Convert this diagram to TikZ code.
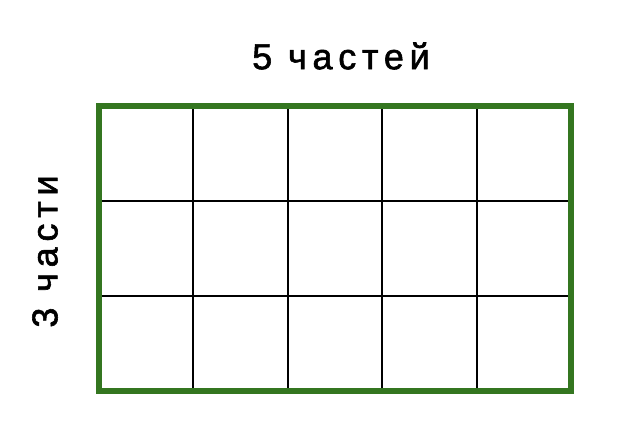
\documentclass[tikz,border=0pt]{standalone}
\usepackage{fontspec}
\setmainfont{Liberation Sans}[LetterSpace=16, FakeBold=1.6]
\definecolor{framegreen}{RGB}{52,118,32}
\begin{document}
\begin{tikzpicture}[x=1pt, y=-1pt]
\useasboundingbox (0,0) rectangle (620,446);
\def\cell{[line width = 2pt] }
\def\caption{node [font=\fontsize{36}{40}\selectfont, inner sep = 0] }

\draw \cell (193.4, 106) -- (193.4, 391);
\draw \cell (287.8, 106) -- (287.8, 391);
\draw \cell (382.2, 106) -- (382.2, 391);
\draw \cell (476.6, 106) -- (476.6, 391);
\draw \cell (99, 201) -- (571, 201);
\draw \cell (99, 296) -- (571, 296);

\draw [framegreen, line width = 6pt] (99, 106) rectangle (571, 391);

\path (341, 56) \caption (cols) {5 частей};
\path (45, 251.5) \caption [rotate = 90] (rows) {3 части};

\end{tikzpicture}
\end{document}
